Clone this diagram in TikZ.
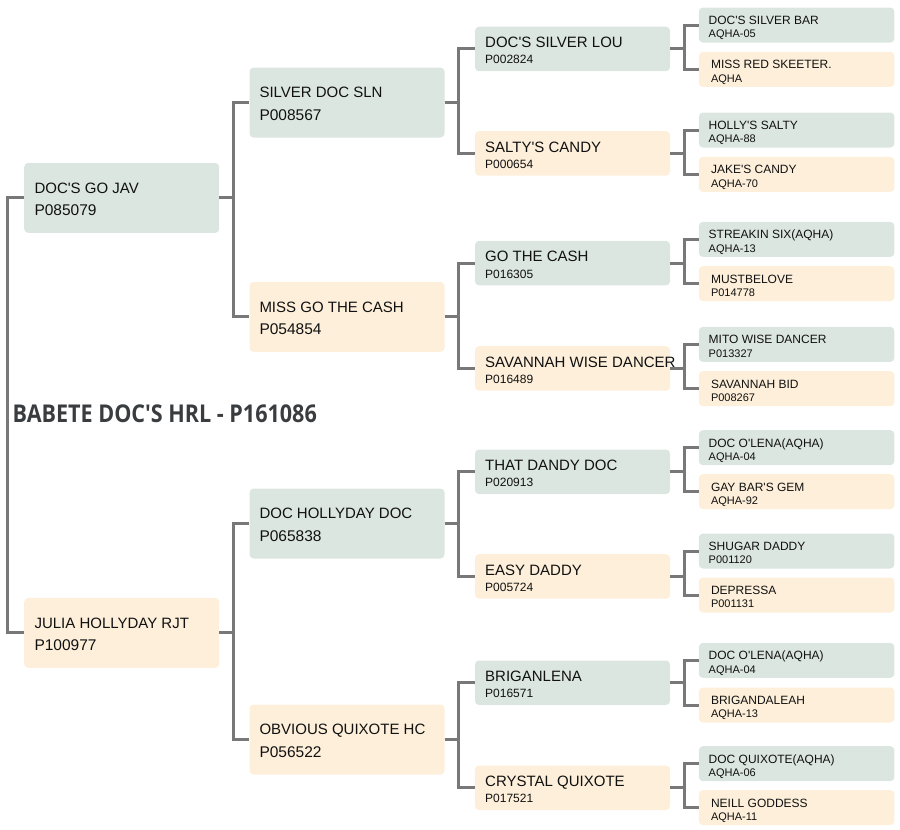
\documentclass[tikz,border=0pt]{standalone}
\usepackage{fontspec}
\setmainfont{Liberation Sans}[Ligatures=TeXOff]
\newfontfamily\titlefont{Open Sans}[FakeStretch=0.88,Ligatures=TeXOff]
\usetikzlibrary{positioning,calc}
\definecolor{sirefill}{HTML}{DCE6E0}
\definecolor{damfill}{HTML}{FDEFDA}
\definecolor{linkgray}{HTML}{787878}
\definecolor{ink}{HTML}{111111}
\definecolor{titleink}{HTML}{3A3D40}
\tikzset{
    box/.style = {rectangle, rounded corners=4pt, inner sep=0pt, anchor=north west, minimum width=195pt},
    sire/.style = {box, fill=sirefill},
    dam/.style = {box, fill=damfill},
    gena/.style = {minimum height=70pt},
    genb/.style = {minimum height=44.5pt},
    genc/.style = {minimum height=35pt, minimum width=195.5pt},
    txt/.style = {anchor=base west, inner sep=0pt, text=ink},
    link/.style = {draw=linkgray, line width=3pt}
}

\begin{document}
\begin{tikzpicture}[x=1pt, y=-1pt]
    \useasboundingbox (0,0) rectangle (900,830);

    % parents
    \foreach \n/\s/\y/\name/\reg in {s/sire/162.7/DOC'S GO JAV/P085079,
                                     d/dam/597.7/JULIA HOLLYDAY RJT/P100977}{
        \node[\s, gena] (\n) at (24,\y) {};
        \node[txt, font=\fontsize{15}{18}\selectfont] (\n name) at (34.3,{\y+30.6}) {\name};
        \node[txt, font=\fontsize{15.5}{18}\selectfont] (\n reg) at (34.3,{\y+53}) {\reg};
    }

    % grandparents
    \foreach \n/\s/\y/\name/\reg in {ss/sire/67.3/SILVER DOC SLN/P008567,
                                     sd/dam/281.7/MISS GO THE CASH/P054854,
                                     ds/sire/488.3/DOC HOLLYDAY DOC/P065838,
                                     dd/dam/704.3/OBVIOUS QUIXOTE HC/P056522}{
        \node[\s, gena] (\n) at (249.3,\y) {};
        \node[txt, font=\fontsize{15}{18}\selectfont] (\n name) at (259.3,{\y+30.3}) {\name};
        \node[txt, font=\fontsize{15.5}{18}\selectfont] (\n reg) at (259.3,{\y+52.8}) {\reg};
    }

    % great-grandparents
    \foreach \n/\s/\y/\name/\reg in {sss/sire/26.5/DOC'S SILVER LOU/P002824,
                                     ssd/dam/131/SALTY'S CANDY/P000654,
                                     sds/sire/240.7/GO THE CASH/P016305,
                                     sdd/dam/346/SAVANNAH WISE DANCER/P016489,
                                     dss/sire/449.3/THAT DANDY DOC/P020913,
                                     dsd/dam/554/EASY DADDY/P005724,
                                     dds/sire/660.3/BRIGANLENA/P016571,
                                     ddd/dam/765.3/CRYSTAL QUIXOTE/P017521}{
        \node[\s, genb] (\n) at (474.8,\y) {};
        \node[txt, font=\fontsize{15}{18}\selectfont] (\n name) at (485,{\y+21}) {\name};
        \node[txt, font=\fontsize{12}{14}\selectfont] (\n reg) at (485,{\y+37.4}) {\reg};
    }

    % great-great-grandparents
    \foreach \n/\s/\y/\dx/\name/\reg in {ssss/sire/7.3/708.5/DOC'S SILVER BAR/AQHA-05,
                                         sssd/dam/51.7/710.8/MISS RED SKEETER./AQHA,
                                         ssds/sire/112.3/708.5/HOLLY'S SALTY/AQHA-88,
                                         ssdd/dam/156.7/710.8/JAKE'S CANDY/AQHA-70,
                                         sdss/sire/221.7/708.5/STREAKIN SIX(AQHA)/AQHA-13,
                                         sdsd/dam/266/710.8/MUSTBELOVE/P014778,
                                         sdds/sire/326.7/708.5/MITO WISE DANCER/P013327,
                                         sddd/dam/371/710.8/SAVANNAH BID/P008267,
                                         dsss/sire/430/708.5/DOC O'LENA(AQHA)/AQHA-04,
                                         dssd/dam/474/710.8/GAY BAR'S GEM/AQHA-92,
                                         dsds/sire/533.3/708.5/SHUGAR DADDY/P001120,
                                         dsdd/dam/577.3/710.8/DEPRESSA/P001131,
                                         ddss/sire/642.7/708.5/DOC O'LENA(AQHA)/AQHA-04,
                                         ddsd/dam/687.3/710.8/BRIGANDALEAH/AQHA-13,
                                         ddds/sire/746/708.5/DOC QUIXOTE(AQHA)/AQHA-06,
                                         dddd/dam/790/710.8/NEILL GODDESS/AQHA-11}{
        \node[\s, genc] (\n) at (698.7,\y) {};
        \node[txt, font=\fontsize{12}{14}\selectfont] (\n name) at (\dx,{\y+17}) {\name};
        \node[txt, font=\fontsize{11}{13}\selectfont] (\n reg) at (\dx,{\y+30.4}) {\reg};
    }

    % brackets
    \draw[link] (s.west) -- ++(-17,0) |- (d.west);
    \foreach \p in {s,d,ss,sd,ds,dd,sss,ssd,sds,sdd,dss,dsd,dds,ddd}{
        \draw[link] (\p.east) -- ++(14,0) |- (\p s.west);
        \draw[link] (\p.east) -- ++(14,0) |- (\p d.west);
    }

    \node[anchor=base west, inner sep=0pt, text=titleink,
          font=\titlefont\bfseries\fontsize{24.5}{28}\selectfont] (title) at (12.5,422.7)
          {BABETE DOC'S HRL - P161086};
\end{tikzpicture}
\end{document}
